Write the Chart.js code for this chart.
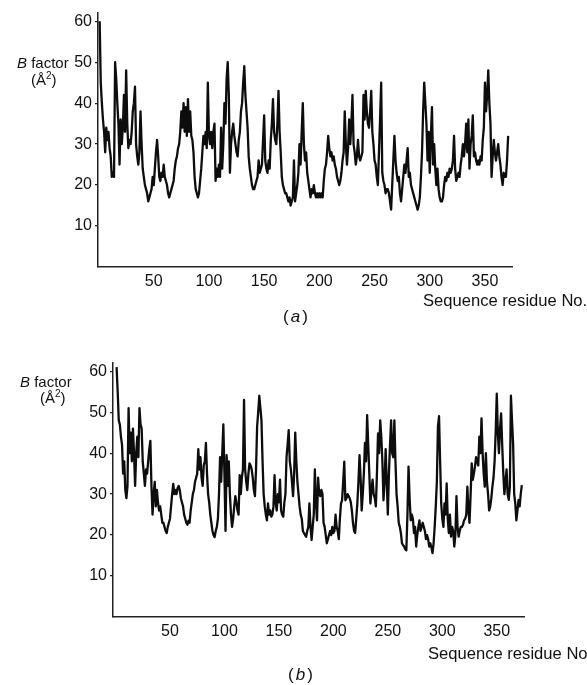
<!DOCTYPE html>
<html>
<head>
<meta charset="utf-8">
<script src="https://cdn.jsdelivr.net/npm/chart.js@4.4.1/dist/chart.umd.min.js"></script>
<style>
  html, body { margin: 0; padding: 0; background: #fff; }
  body { width: 587px; height: 685px; position: relative; overflow: hidden;
         font-family: "Liberation Sans", Arial, sans-serif; color: #111; }
  .box { position: absolute; left: 0; }
  .lbl { position: absolute; white-space: nowrap; line-height: 1; }
</style>
</head>
<body>
<div class="box" style="top:0px"><canvas id="chartA" width="587" height="300"></canvas></div>
<div class="box" style="top:340px"><canvas id="chartB" width="587" height="310"></canvas></div>

<div class="lbl" style="left:17px;top:55px;font-size:15px"><i>B</i> factor</div>
<div class="lbl" style="left:31px;top:71px;font-size:15px">(Å<sup style="font-size:10px">2</sup>)</div>
<div class="lbl" style="left:423px;top:293px;font-size:16.6px">Sequence residue No.</div>
<div class="lbl" style="left:283px;top:308px;font-size:17px;letter-spacing:2px">(<i>a</i>)</div>

<div class="lbl" style="left:20px;top:374px;font-size:15px"><i>B</i> factor</div>
<div class="lbl" style="left:40px;top:389px;font-size:15px">(Å<sup style="font-size:10px">2</sup>)</div>
<div class="lbl" style="left:428px;top:646px;font-size:16.6px">Sequence residue No.</div>
<div class="lbl" style="left:288px;top:666px;font-size:17px;letter-spacing:2px">(<i>b</i>)</div>

<script>
// B factor per residue, panel (a), residues 1..371
const bFactorA = [
  60,45,40,36,33,28,34,31,33,29, 27,22,23,22,50,46,40,35,25,36,
  30,34,42,33,48,35,29,31,30,33, 38,40,44,30,27,25,28,38,30,24,
  22,20,19,18,16,17,18,19,22,20, 24,28,31,27,22,21,23,22,25,22,
  21,20,18,17,18,19,20,21,24,26, 27,29,30,33,38,34,40,33,39,32,
  41,33,38,32,31,28,22,19,18,17, 18,21,24,28,32,30,33,29,45,32,
  30,33,29,33,35,21,24,22,25,22, 34,24,30,40,35,46,50,42,23,30,
  33,35,32,30,28,27,31,33,38,40, 45,49,42,38,34,27,24,22,20,19,
  19,20,21,22,26,23,24,25,31,37, 26,24,23,26,24,31,35,41,33,31,
  30,35,43,33,28,22,20,19,18,18, 17,16,17,15,16,17,26,16,18,20,
  23,30,25,33,40,30,26,28,23,21, 19,17,19,18,20,18,17,18,17,18,
  17,18,17,21,24,25,28,32,29,27, 28,26,27,25,24,22,21,20,21,23,
  26,28,38,30,25,29,36,30,35,42, 30,28,25,27,31,27,26,27,28,42,
  36,43,38,35,34,38,43,33,30,26, 25,22,20,28,36,45,23,21,20,18,
  19,19,18,16,14,20,26,32,26,23, 21,22,18,16,19,22,25,23,26,29,
  22,23,20,19,18,17,16,15,14,15, 17,22,28,38,45,40,35,26,33,23,
  32,39,25,30,24,20,24,19,17,16, 16,17,20,22,21,23,22,24,23,24,
  26,32,24,21,22,23,22,25,27,30, 27,30,35,28,36,24,30,32,37,27,
  28,26,25,26,25,27,26,31,34,45, 38,42,48,40,35,22,27,31,28,26,
  28,30,27,25,22,20,23,22,22,26,32
];

// B factor per residue, panel (b), residues 1..373
const bFactorB = [
  61,55,48,47,44,42,35,38,31,29, 32,51,40,45,38,46,40,32,40,44,
  39,51,47,46,38,35,32,36,35,38, 41,43,32,25,30,33,27,31,28,26,
  27,25,23,23,22,21,20.5,22,23,24, 27,30,32.5,30,31,30,31.5,32,31,29,
  28,27,25,24,23,22.5,23.5,23,26,28, 30,31,33,34,35,41,36,39,34,32,
  37,38,42.5,35,30,28,25,23,21,20, 19.5,21,22,24,30,39,33,40,47,35,
  21,39.5,32,38,30,25,22,24,27,29.5, 28,26,25,34.6,30,34,36,53,36,33,
  31,35,37.5,37,36,34,31,29.5,36,46.5, 50,54,51,48,38,30,27,25,23.6,27.7,
  25,26,24.5,25,27,34.6,28,26,30,28, 33.5,26,25,24.5,28,30,39,42,45.6,38,
  36,33,29.5,35,45,38,33,30,27,25, 24,21,20.5,20,19.6,21,22,27.7,22,18.8,
  22,25,36,28,23.6,34,30,29.5,31,30, 23,22,20,18,19,20,21,20,22,20.5,
  21,25,22,21,19,24,27.7,28.5,33,37.9, 28.5,29,30,29.5,29,28,26,23,21,20.5,
  24,27.7,33,39.5,34,26,30,35,42.5,38, 49.3,42,35,27.7,31,33.5,30,29,27,35,
  44.8,40,48,44,38,28.5,33,41,33,25, 35,42,48,40,39,48,38,30,27,23,
  22,20.5,18,17.5,17.2,16.5,16.3,25,36.7,29, 23.6,25,24,20.5,22,17.2,20,22,23.6,21,
  22,23,22,21,19,20,19,17.2,18,17, 15.6,18,22,27,33,46.5,49,38,27.7,24,
  22,27.7,25,32.6,24,20.5,25,19.6,22,21, 17.2,20,29.5,22,19.6,21,22,22,22.5,23.6,
  24,25,31.8,26,23,30,37.5,33.5,35,36.7, 39,38,37,44,40,48.5,40,35,31.8,40,
  33,30,26,27,29,31.8,34,38,45,54.5, 45,40,46,49.7,42,35,30,33,36,30,
  28.6,31.8,54,48,42.3,30,27.7,23.6,26,28.6, 27,30,32.2
];

const xTicks = [50, 100, 150, 200, 250, 300, 350];
const yTicks = [10, 20, 30, 40, 50, 60];

const tickFont = { family: "Liberation Sans", size: 16 };

// Build one B factor plot; geometry values place the axes like the scanned figure
function makeChart(id, values, geo) {
    const points = values.map((v, i) => ({ x: i + 1, y: v }));
    return new Chart(id, {
        type: "line",
        data: {
            datasets: [{
                data: points,
                borderColor: "#0d0d0d",
                borderWidth: 2.3,
                borderJoinStyle: "round",
                pointRadius: 0,
                tension: 0,
                fill: false
            }]
        },
        options: {
            responsive: false,
            animation: false,
            events: [],
            layout: { padding: { top: geo.top, right: geo.right, left: 0, bottom: 0 } },
            plugins: { legend: { display: false }, tooltip: { enabled: false } },
            scales: {
                x: {
                    type: "linear",
                    min: geo.xMin,
                    max: geo.xMax,
                    afterBuildTicks: s => { s.ticks = xTicks.map(v => ({ value: v })); },
                    afterFit: s => { s.height = geo.xHeight; },
                    grid: { display: false, drawTicks: false },
                    border: { display: true, color: "#222", width: 1.5 },
                    ticks: { color: "#111", font: tickFont, padding: 5, maxRotation: 0, autoSkip: false }
                },
                y: {
                    min: 0,
                    max: 62,
                    afterBuildTicks: s => { s.ticks = yTicks.map(v => ({ value: v })); },
                    afterFit: s => { s.width = geo.yWidth; },
                    grid: { drawOnChartArea: false, drawTicks: true, tickLength: 3, color: "#222", lineWidth: 1.2 },
                    border: { display: true, color: "#222", width: 1.5 },
                    ticks: { color: "#111", font: tickFont, padding: 3, autoSkip: false }
                }
            }
        }
    });
}

makeChart("chartA", bFactorA, { top: 13, right: 75, yWidth: 98, xHeight: 33, xMin: -0.5, xMax: 374.5 });
makeChart("chartB", bFactorB, { top: 23, right: 63, yWidth: 113, xHeight: 33, xMin: -2.3, xMax: 375 });
</script>
</body>
</html>
